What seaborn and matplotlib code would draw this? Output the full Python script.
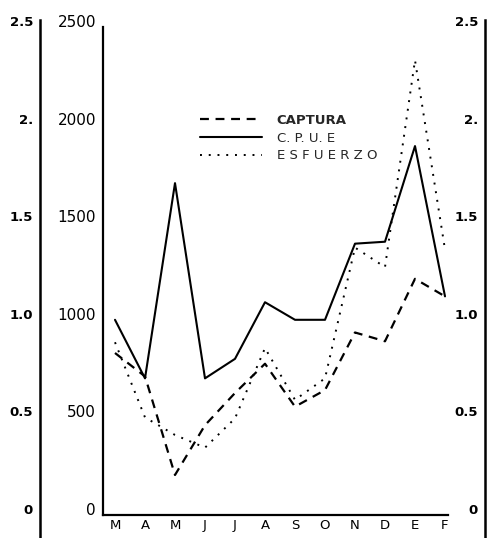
import matplotlib
matplotlib.use("Agg")
import matplotlib.pyplot as plt
from matplotlib.transforms import ScaledTranslation
import seaborn as sns
import pandas as pd

months = ["M", "A", "M", "J", "J", "A", "S", "O", "N", "D", "E", "F"]
captura = [830, 710, 205, 460, 625, 775, 555, 640, 935, 890, 1210, 1120]
cpue = [1000, 700, 1700, 700, 800, 1090, 1000, 1000, 1390, 1400, 1890, 1120]
esfuerzo = [885, 500, 410, 345, 495, 855, 590, 700, 1370, 1270, 2330, 1360]

left_ticks = [0, 500, 1000, 1500, 2000, 2500]
left_labels = ["0", "500", "1000", "1500", "2000", "2500"]
ratio_ticks = [0, 0.5, 1.0, 1.5, 2.0, 2.5]
ratio_labels = ["0", "0.5", "1.0", "1.5", "2.", "2.5"]

sns.set_style("white")
plt.rcParams['font.family'] = ['DejaVu Sans']

W, H = 490, 538
fig = plt.figure(figsize=(W / 100, H / 100), dpi=100)

df = pd.DataFrame({"idx": list(range(len(months))), "captura": captura,
                   "cpue": cpue, "esfuerzo": esfuerzo})

# main axes: left spine at x=103, y 0 at 515, 2500 at 27
ax = fig.add_axes([103 / W, (H - 515) / H, (487 - 103) / W, (515 - 27) / H])
ax.patch.set_visible(False)

sns.lineplot(data=df, x="idx", y="captura", ax=ax, color="black", lw=1.6,
             linestyle=(0, (4, 3)), label="CAPTURA")
sns.lineplot(data=df, x="idx", y="cpue", ax=ax, color="black", lw=1.5,
             linestyle="-", label="C. P. U. E")
sns.lineplot(data=df, x="idx", y="esfuerzo", ax=ax, color="black", lw=1.4,
             linestyle=(0, (1, 3.5)), label="E S F U E R Z O")

ax.set_xlim(-0.4, 12.4)
ax.set_ylim(0, 2500)
for s in ["top", "right"]:
    ax.spines[s].set_visible(False)
for s in ["left", "bottom"]:
    ax.spines[s].set_color("black")
    ax.spines[s].set_linewidth(1.6)
ax.spines["bottom"].set_bounds(-0.4, 11.1)
ax.set_xticks(range(len(months)))
ax.set_xticklabels(months, fontsize=9.5)
ax.set_yticks(left_ticks)
ax.set_yticklabels(left_labels, fontsize=11)
ax.tick_params(axis="y", direction="in", length=4, width=1.2, pad=5, colors="black")
ax.tick_params(axis="x", direction="in", length=3, width=1.0, pad=3, colors="black")
ax.set_xlabel("")
ax.set_ylabel("")
off = ScaledTranslation(0, 6 / 100, fig.dpi_scale_trans)
for lab in ax.get_yticklabels():
    lab.set_transform(lab.get_transform() + off)

leg = ax.legend(loc="upper left", bbox_to_anchor=(200 / W, 1 - 114 / H),
                bbox_transform=fig.transFigure, frameon=False, fontsize=9.5,
                handlelength=4.7, handletextpad=1.1, labelspacing=0.35,
                borderpad=0, borderaxespad=0)
leg.get_texts()[0].set_fontweight("bold")

# secondary ratio axes (far left and right)
def ratio_axis(xpix):
    a = fig.add_axes([xpix / W, 0, 0.0005, (H - 20) / H])
    a.patch.set_visible(False)
    px = 2.5 / (515 - 27)
    a.set_ylim(-(H - 515) * px, 2.5 + 7 * px)
    for s in ["top", "right", "bottom"]:
        a.spines[s].set_visible(False)
    a.spines["left"].set_color("black")
    a.spines["left"].set_linewidth(1.8)
    a.set_xticks([])
    a.set_yticks(ratio_ticks)
    a.set_yticklabels(ratio_labels, fontsize=9.5, fontweight="bold")
    a.tick_params(axis="y", direction="in", length=4, width=1.2, pad=5, colors="black")
    for lab in a.get_yticklabels():
        lab.set_transform(lab.get_transform() + off)
    return a

ratio_axis(40)
ratio_axis(485)

fig.savefig("out.png", dpi=100)
